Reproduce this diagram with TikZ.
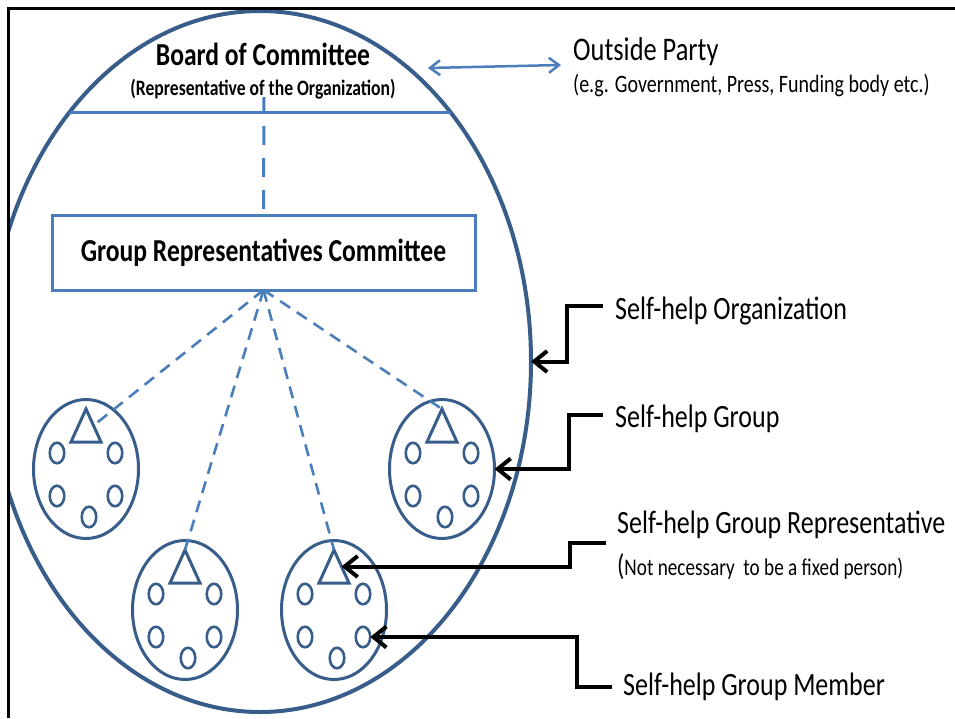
\documentclass[tikz,border=0pt]{standalone}
\usepackage{fontspec}
\setmainfont{Carlito}[FakeStretch=0.8]
\usetikzlibrary{shapes.geometric,arrows.meta}
\definecolor{orgblue}{HTML}{385D8A}
\definecolor{linkblue}{HTML}{4A7EBB}
\begin{document}
\begin{tikzpicture}[x=1pt, y=-1pt,
        grp/.style={draw=orgblue, line width=3pt, ellipse, minimum width=105pt, minimum height=139pt, inner sep=0pt, outer sep=0pt},
        member/.style={draw=orgblue, line width=2.6pt, ellipse, minimum width=14.5pt, minimum height=20.5pt, inner sep=0pt, outer sep=0pt},
        rep/.style={draw=orgblue, line width=3pt, line join=miter},
        dashlink/.style={draw=linkblue, line width=2.6pt, dash pattern=on 12pt off 8pt},
        pointer/.style={draw=black, line width=4pt, -{Straight Barb[length=13pt, width=21pt]}},
        twoway/.style={draw=linkblue, line width=2.5pt, {Straight Barb[length=10pt, width=15pt]}-{Straight Barb[length=10pt, width=15pt]}},
        lbl/.style={anchor=base west, inner sep=0pt, font=\fontsize{32.5}{36}\selectfont}]
        \useasboundingbox (0,0) rectangle (955,718);
        \begin{scope}
          \clip (8.5,8.5) rectangle (955,718);
          \node[draw=orgblue, line width=4pt, ellipse, minimum width=542pt, minimum height=701pt, inner sep=0pt, outer sep=0pt] (org) at (260,361.5) {};
          \clip (260,361.5) ellipse [x radius=271pt, y radius=350.5pt];
          \draw[linkblue, line width=3pt] (0,112) -- (955,112);
        \end{scope}
        \node[anchor=base, inner sep=0pt, font=\bfseries\fontsize{32}{36}\selectfont] (board) at (263,65) {Board of Committee};
        \node[anchor=base, inner sep=0pt, font=\bfseries\fontsize{22}{26}\selectfont] (boardsub) at (263,95) {(Representative of the Organization)};
        \coordinate (bline) at (264,97);
        \node[draw=linkblue, line width=3pt, minimum width=423pt, minimum height=75pt, inner sep=0pt, outer sep=0pt, font=\bfseries\fontsize{32}{36}\selectfont] (grc) at (263.5,252.5) {Group Representatives Committee};
        \draw[dashlink, line width=3pt, dash pattern=on 19pt off 13pt, dash phase=3pt] (bline) -- (grc.north);
        \foreach \g/\x/\y in {g1/86/469, g2/185/610, g3/334/610, g4/442/469} {
          \node[grp] (\g) at (\x,\y) {};
          \coordinate (\g-apex) at (\x,{\y-60});
          \coordinate (\g-side) at ({\x+7.5},{\y-43.5});
          \draw[rep] ({\x-15},{\y-27}) -- (\g-apex) -- ({\x+15},{\y-27}) -- cycle;
          \foreach \dx/\dy [count=\i] in {-29/-16, 29/-16, -29/27, 29/27, 3/48}
            \node[member] (\g-m\i) at ({\x+\dx},{\y+\dy}) {};
        }
        \foreach \t in {g1-side, g2-apex, g3-apex, g4-apex}
          \draw[dashlink] (grc.south) -- (\t);
        \node[lbl, font=\fontsize{33}{36}\selectfont] (party) at (573,60) {Outside Party};
        \node[lbl, font=\fontsize{25}{28}\selectfont] (partynote) at (573,92) {(e.g. Government, Press, Funding body etc.)};
        \coordinate (orgtop) at (428,68);
        \draw[twoway] (orgtop) -- ([shift={(-12pt,-5pt)}]party.base west);
        \node[lbl] (lorg) at (615,319) {Self-help Organization};
        \node[lbl] (lgrp) at (615,427) {Self-help Group};
        \node[lbl] (lrep) at (617,533) {Self-help Group Representative};
        \node[lbl, font=\fontsize{24}{28}\selectfont] (lrepnote) at (617,575) {{\fontsize{30}{30}\selectfont(}Not necessary\ \ to be a fixed person)};
        \node[lbl] (lmem) at (623,695) {Self-help Group Member};
        \draw[pointer] ([shift={(-12pt,13pt)}]lorg.base west) -- ++(-36,0) |- (org.east);
        \draw[pointer] ([shift={(-12pt,12pt)}]lgrp.base west) -- ++(-34,0) |- (g4.east);
        \draw[pointer] ([shift={(-11pt,-10pt)}]lrep.base west) -- ++(-36,0) |- (g3-side);
        \draw[pointer] ([shift={(-11pt,8pt)}]lmem.base west) -- ++(-35,0) |- (g3-m4.east);
        \draw[line width=3pt] (955,8.5) -- (8.5,8.5) -- (8.5,718);
      \end{tikzpicture}
\end{document}
